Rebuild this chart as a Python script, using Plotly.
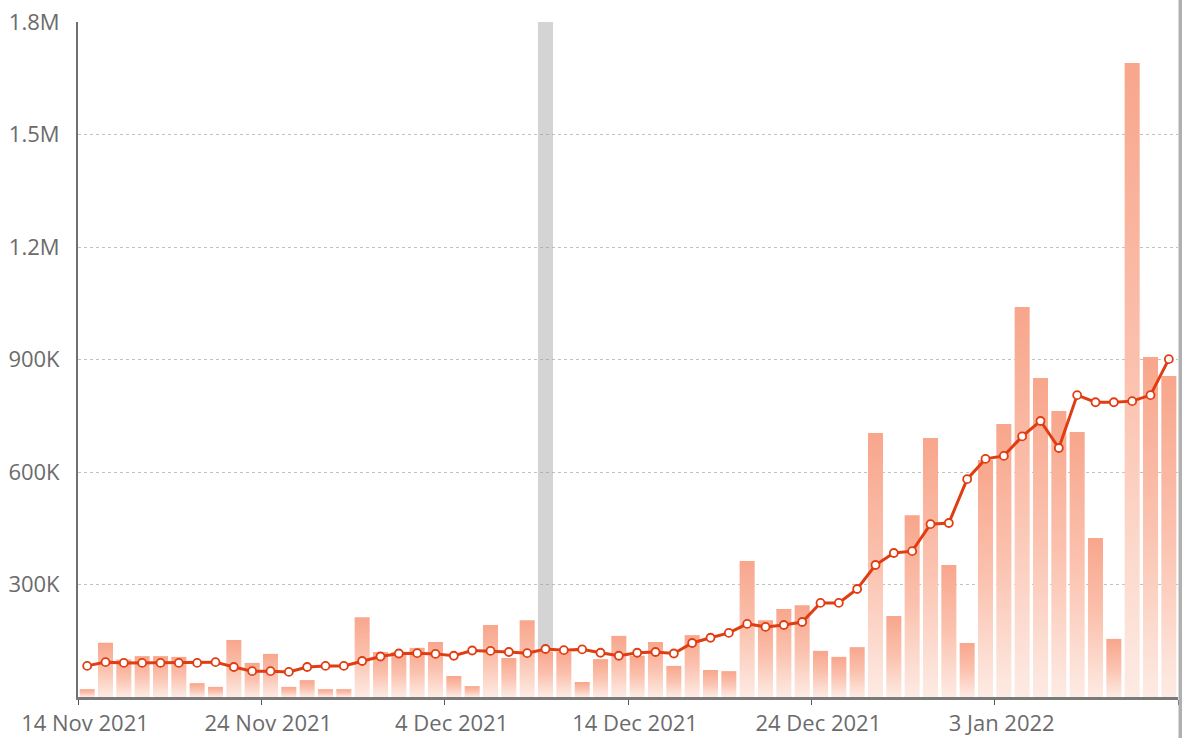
import pandas as pd
import plotly.graph_objects as go

# Daily counts (thousands) and 7-day rolling average (thousands), 14 Nov 2021 - 12 Jan 2022
start_date = "2021-11-14"
daily_k = [21, 145, 100, 109, 109, 107, 37, 27, 152, 91,
           115, 27, 45, 21, 21, 213, 120, 120, 131, 147,
           56, 29, 192, 104, 205, 120, 120, 40, 101, 163,
           110, 147, 83, 165, 72, 69, 363, 205, 235, 245,
           123, 107, 133, 704, 216, 485, 691, 352, 144, 632,
           728, 1040, 851, 763, 707, 424, 155, 1691, 907, 856]
avg_k = [83, 93, 91, 91, 91, 91, 91, 93, 80, 69,
         69, 67, 80, 83, 83, 96, 108, 116, 117, 115,
         110, 124, 123, 120, 117, 128, 125, 127, 118, 110,
         118, 120, 116, 144, 158, 171, 195, 187, 192, 200,
         251, 251, 288, 352, 384, 389, 461, 464, 581, 635,
         643, 695, 736, 664, 805, 786, 786, 789, 805, 901]
highlight_day = "2021-12-09"

y_max = 1_800_000
y_ticks = [300_000, 600_000, 900_000, 1_200_000, 1_500_000, 1_800_000]
y_labels = ["300K", "600K", "900K", "1.2M", "1.5M", "1.8M"]
x_ticks = ["2021-11-14", "2021-11-24", "2021-12-04", "2021-12-14",
           "2021-12-24", "2022-01-03", "2022-01-13"]
x_labels = ["14 Nov 2021", "24 Nov 2021", "4 Dec 2021", "14 Dec 2021",
            "24 Dec 2021", "3 Jan 2022", ""]

days = pd.date_range(start_date, periods=len(daily_k), freq="D")
daily = [v * 1000 for v in daily_k]
avg = [v * 1000 for v in avg_k]

BAR_FRAC = 0.82
LINE_RED = "#e03d12"
TEXT_GREY = "#6b6b6b"
FONT_SIZE = 22

fig = go.Figure()

# Each daily bar is a filled polygon so it can fade from top to bottom
day = pd.Timedelta(days=1)
for d, v in zip(days, daily):
    left = d + day * (1 - BAR_FRAC) / 2
    right = d + day * (1 + BAR_FRAC) / 2
    fig.add_trace(go.Scatter(
        x=[left, left, right, right, left],
        y=[0, v, v, 0, 0],
        mode="lines",
        line=dict(width=0),
        fill="toself",
        fillgradient=dict(type="vertical",
                          colorscale=[[0, "#fdebe4"], [0.5, "#fbc2af"], [1, "#f8a68c"]]),
        hoverinfo="skip",
        showlegend=False,
    ))

# Hover-style highlight column over the selected day
hl = pd.Timestamp(highlight_day)
fig.add_trace(go.Bar(
    x=[hl + day / 2],
    y=[y_max],
    width=[BAR_FRAC * 86_400_000],
    marker=dict(color="rgba(160,160,160,0.45)", line=dict(width=0)),
    hoverinfo="skip",
    showlegend=False,
))

# 7-day average line
fig.add_trace(go.Scatter(
    x=[d + day / 2 for d in days],
    y=avg,
    mode="lines+markers",
    line=dict(color=LINE_RED, width=3),
    marker=dict(size=8, color="white", line=dict(color=LINE_RED, width=1.8)),
    showlegend=False,
))

fig.update_layout(
    width=1182,
    height=738,
    margin=dict(l=78, r=4, t=22, b=41),
    paper_bgcolor="white",
    plot_bgcolor="white",
    font=dict(family="Segoe UI, Open Sans, sans-serif", size=FONT_SIZE, color=TEXT_GREY),
    barmode="overlay",
    hovermode=False,
    xaxis=dict(
        type="date",
        range=[x_ticks[0], x_ticks[-1]],
        tickvals=x_ticks,
        ticktext=x_labels,
        ticklabelshift=7,
        automargin=False,
        showgrid=False,
        showline=True,
        linecolor="#7a7a7a",
        linewidth=3,
        ticks="outside",
        ticklen=5,
        tickwidth=1,
        tickcolor="#555555",
        zeroline=False,
        tickfont=dict(size=FONT_SIZE, color=TEXT_GREY),
    ),
    yaxis=dict(
        range=[0, y_max],
        tickvals=y_ticks,
        ticktext=y_labels,
        automargin=False,
        showgrid=True,
        gridcolor="#c2c2c2",
        griddash="dot",
        gridwidth=1,
        showline=True,
        linecolor="#707070",
        linewidth=2,
        ticks="",
        zeroline=False,
        ticklabelstandoff=12,
        tickfont=dict(size=FONT_SIZE, color=TEXT_GREY),
    ),
    shapes=[
        # narrow grey strip along the right edge
        dict(type="rect", xref="paper", yref="paper",
             x0=1 + 0.5 / 1100, x1=1 + 4 / 1100,
             y0=-41 / 675, y1=1 + 22 / 675,
             fillcolor="#b0b0b0", line=dict(width=0), layer="above"),
    ],
)

fig.write_html("out.html")
